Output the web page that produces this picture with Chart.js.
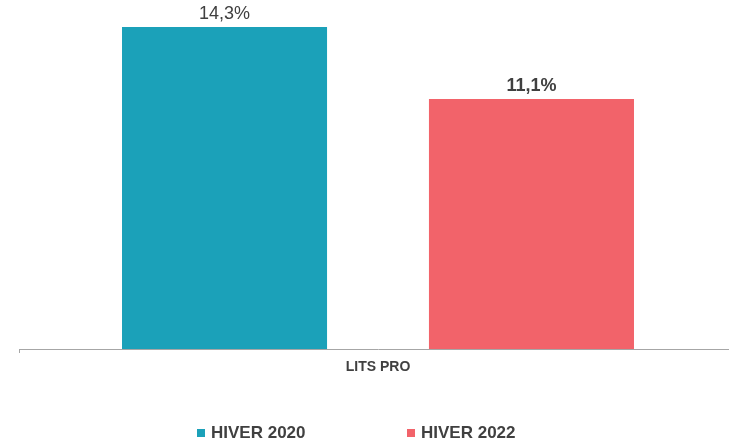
<!DOCTYPE html>
<html>
<head>
<meta charset="utf-8">
<script src="https://cdn.jsdelivr.net/npm/chart.js@4"></script>
<style>
  body { margin: 0; overflow: hidden; background: #fff; font-family: 'Liberation Sans', Arial, sans-serif; }
  #wrap { position: relative; width: 737px; height: 443px; }
  #legend-container .item { position: absolute; top: 423px; height: 20px; line-height: 20px;
      font-size: 17px; font-weight: bold; color: #404040; white-space: nowrap; }
  #legend-container .box { display: inline-block; width: 8px; height: 8px; margin-right: 6px; vertical-align: 1px; }
</style>
</head>
<body>
<div id="wrap">
  <canvas id="myChart"></canvas>
  <div id="legend-container"></div>
</div>
<script>
/* data */
const CATEGORIES = ['LITS PRO'];
const SERIES = ['HIVER 2020', 'HIVER 2022'];
const VALUES_2020 = [14.3];
const VALUES_2022 = [11.1];
const COLORS = ['#1ba1b9', '#f2636a'];

const data = {
    labels: CATEGORIES,
    datasets: [{
        label: SERIES[0],
        data: VALUES_2020,
        backgroundColor: COLORS[0],
        labelWeight: 'normal'
    },
    {
        label: SERIES[1],
        data: VALUES_2022,
        backgroundColor: COLORS[1],
        labelWeight: 'bold'
    }]
};

// value labels above bars (comma decimals)
const valueLabels = {
    id: 'valueLabels',
    afterDatasetsDraw(chart) {
        const ctx = chart.ctx;
        ctx.save();
        ctx.fillStyle = '#404040';
        ctx.textAlign = 'center';
        ctx.textBaseline = 'bottom';
        chart.data.datasets.forEach((dataset, i) => {
            const meta = chart.getDatasetMeta(i);
            meta.data.forEach((bar, j) => {
                ctx.font = dataset.labelWeight + " 18px 'Liberation Sans', Arial, sans-serif";
                const txt = dataset.data[j].toFixed(1).replace('.', ',') + '%';
                ctx.fillText(txt, bar.x, bar.y - 4);
            });
        });
        ctx.restore();
    }
};

const options = {
    animation: false,
    responsive: true,
    maintainAspectRatio: false,
    layout: {
        padding: { left: 19, right: 0, top: 0, bottom: 0 }
    },
    datasets: {
        bar: {
            categoryPercentage: 0.855,
            barPercentage: 0.668
        }
    },
    scales: {
        x: {
            afterFit: (scale) => { scale.height = 94; },
            grid: {
                display: true,
                drawOnChartArea: false,
                tickLength: 4,
                color: '#a6a6a6'
            },
            border: {
                display: true,
                color: '#a6a6a6'
            },
            ticks: {
                padding: 6,
                color: '#404040',
                font: {
                    family: "'Liberation Sans', Arial, sans-serif",
                    size: 14,
                    weight: 'bold'
                }
            }
        },
        y: {
            display: false,
            min: 0,
            max: 15.5
        }
    },
    plugins: {
        legend: { display: false },
        tooltip: { enabled: false }
    }
};

const ctx = document.getElementById('myChart');
const myChart = new Chart(ctx, {
    type: 'bar',
    data,
    options,
    plugins: [valueLabels]
});

// html legend
const LEGEND_X = [197, 407];
function buildLegend() {
    const legend = document.getElementById('legend-container');
    myChart.data.datasets.forEach((dataset, index) => {
        let item = document.createElement('div');
        item.className = 'item';
        item.style.left = LEGEND_X[index] + 'px';
        let box = document.createElement('span');
        box.className = 'box';
        box.style.backgroundColor = dataset.backgroundColor;
        item.appendChild(box);
        item.appendChild(document.createTextNode(dataset.label));
        legend.appendChild(item);
    });
}
buildLegend();
</script>
</body>
</html>
